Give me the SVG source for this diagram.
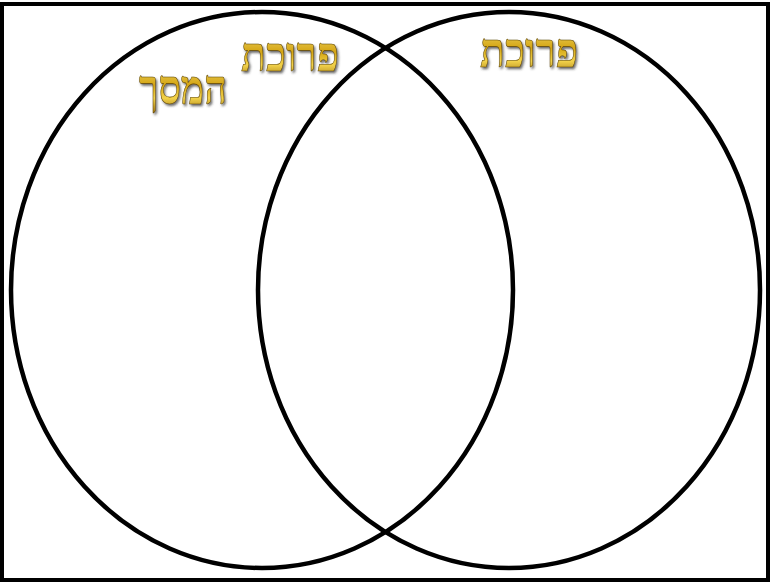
<svg xmlns="http://www.w3.org/2000/svg" width="770" height="582" viewBox="0 0 770 582">
<defs>
<linearGradient id="gold" x1="0" y1="0" x2="0" y2="1">
<stop offset="0" stop-color="#f6e27a"/>
<stop offset="0.45" stop-color="#d4a514"/>
<stop offset="0.7" stop-color="#f2d24a"/>
<stop offset="1" stop-color="#9a6d08"/>
</linearGradient>
<filter id="sh" x="-10%" y="-10%" width="130%" height="140%">
<feDropShadow dx="1.5" dy="2" stdDeviation="0.8" flood-color="#333" flood-opacity="0.7"/>
</filter>
</defs>
<style>
.c{fill:none;stroke:#000;stroke-width:4.5}
.t{font-family:"Liberation Serif","DejaVu Serif",serif;font-weight:bold;font-size:48px;fill:url(#gold);stroke:#5a4200;stroke-width:0.6;filter:url(#sh)}
</style>
<rect x="2" y="4" width="766" height="576" fill="#fff" stroke="#000" stroke-width="4"/>
<g id="connectors"/>
<g id="left">
<ellipse class="c" cx="262" cy="290" rx="251" ry="278"/>
</g>
<g id="right">
<ellipse class="c" cx="509" cy="290" rx="251" ry="278"/>
</g>
<g id="label-left-1"><text class="t" x="290" y="71" text-anchor="middle" direction="rtl" textLength="98" lengthAdjust="spacingAndGlyphs">פרוכת</text></g>
<g id="label-left-2"><text class="t" x="183" y="104" text-anchor="middle" direction="rtl" textLength="88" lengthAdjust="spacingAndGlyphs">המסך</text></g>
<g id="label-right"><text class="t" x="529" y="67" text-anchor="middle" direction="rtl" textLength="98" lengthAdjust="spacingAndGlyphs">פרוכת</text></g>
</svg>
